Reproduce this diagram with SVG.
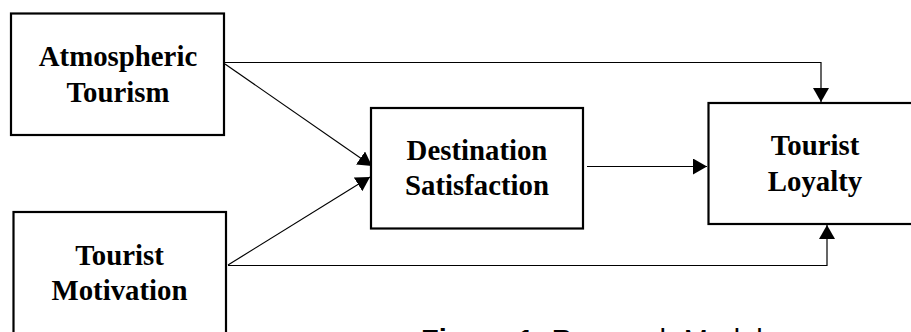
<svg xmlns="http://www.w3.org/2000/svg" width="911" height="332" viewBox="0 0 911 332">
<defs>
<style>
.box{fill:#fff;stroke:#000;stroke-width:2.2}
.lbl{font-family:"Liberation Serif","Times New Roman",serif;font-weight:bold;font-size:28.8px;fill:#000;text-anchor:middle}
.con{fill:none;stroke:#000;stroke-width:1.2}
.cap{font-family:"Liberation Sans",Arial,sans-serif;font-size:29px;fill:#000}
</style>
<marker id="arr" markerUnits="userSpaceOnUse" markerWidth="15" markerHeight="16" refX="14" refY="8" orient="auto">
<path d="M0,0 L14,8 L0,16 z" fill="#000"/>
</marker>
</defs>
<rect width="911" height="332" fill="#fff"/>
<g id="connectors">
<polyline class="con" points="225,62.5 821,62.5 821,102" marker-end="url(#arr)"/>
<line class="con" x1="225" y1="64" x2="372" y2="166" marker-end="url(#arr)"/>
<line class="con" x1="228" y1="265" x2="370" y2="177" marker-end="url(#arr)"/>
<polyline class="con" points="228,265.5 827,265.5 827,225" marker-end="url(#arr)"/>
<line class="con" x1="587" y1="166.5" x2="707" y2="166.5" marker-end="url(#arr)"/>
</g>
<g id="atmospheric-tourism">
<rect class="box" x="11" y="13.5" width="213" height="121.5"/>
<text class="lbl" x="118" y="66">Atmospheric</text>
<text class="lbl" x="118" y="102">Tourism</text>
</g>
<g id="tourist-motivation">
<rect class="box" x="13.5" y="212" width="212.5" height="140"/>
<text class="lbl" x="119.5" y="265">Tourist</text>
<text class="lbl" x="119.5" y="300">Motivation</text>
</g>
<g id="destination-satisfaction">
<rect class="box" x="371" y="108" width="212" height="120.5"/>
<text class="lbl" x="477" y="159.5">Destination</text>
<text class="lbl" x="477" y="195">Satisfaction</text>
</g>
<g id="tourist-loyalty">
<rect class="box" x="708.5" y="103" width="230" height="121"/>
<text class="lbl" x="815" y="154.5">Tourist</text>
<text class="lbl" x="815" y="190.5">Loyalty</text>
</g>
<g id="caption">
<text class="cap" x="421" y="350"><tspan font-weight="bold">Figure 1:</tspan> Research Model</text>
</g>
</svg>
